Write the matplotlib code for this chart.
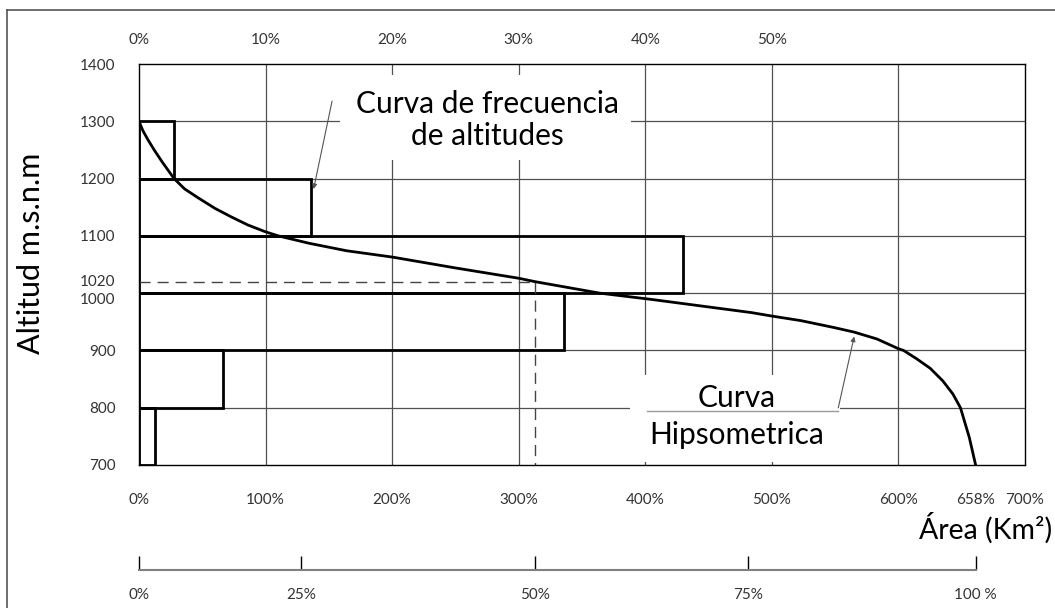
import matplotlib
matplotlib.use('Agg')
import matplotlib.pyplot as plt
import matplotlib.transforms as mtransforms
from matplotlib.patches import Rectangle
from matplotlib.lines import Line2D

plt.rcParams['font.family'] = ['Lato', 'DejaVu Sans']

# frequency of altitudes (bars), % of area per 100 m band
alt_low = [700, 800, 900, 1000, 1100, 1200]
freq_pct = [1.3, 6.6, 33.6, 43.0, 13.6, 2.8]

# hypsometric curve: accumulated area (bottom scale, %) vs altitude
hyp_area = [0, 3, 7, 12, 18, 27.7, 36, 47, 60, 73, 86, 100, 110, 134.5, 164,
            200, 250, 300, 313, 364, 405, 484, 500, 523, 549, 565, 583, 600,
            604, 614, 625, 635, 643, 649, 656, 661]
hyp_alt = [1300, 1284, 1268, 1250, 1230, 1200, 1182, 1166, 1148, 1133, 1119,
           1107, 1100, 1087, 1074, 1063, 1044, 1026, 1020, 1000, 989, 966,
           960, 952, 940, 932, 920, 903, 900, 886, 869, 847, 824, 800, 748, 700]

median_alt = 1020
median_area = 313

y_ticks = [700, 800, 900, 1000, 1020, 1100, 1200, 1300, 1400]
x_ticks = [0, 100, 200, 300, 400, 500, 600, 661, 700]
x_labels = ['0%', '100%', '200%', '300%', '400%', '500%', '600%', '658%', '700%']
top_ticks = [0, 10, 20, 30, 40, 50]
top_labels = ['0%', '10%', '20%', '30%', '40%', '50%']
rel_ticks = [0, 128, 313, 481, 661]
rel_labels = ['0%', '25%', '50%', '75%', '100 %']

W, H = 1055, 608
fig = plt.figure(figsize=(W / 100, H / 100), dpi=100)

L, R, T, B = 139, 1025, 64, 465
ax = fig.add_axes([L / W, 1 - B / H, (R - L) / W, (B - T) / H])
ax.set_xlim(0, 700)
ax.set_ylim(700, 1400)

tick_col = '#333333'
grid_col = '#505050'
lbl_size = 11

# grid
for x in range(100, 700, 100):
    ax.axvline(x, color=grid_col, lw=0.9, zorder=0.5)
for y in range(800, 1400, 100):
    ax.axhline(y, color=grid_col, lw=0.9, zorder=0.5)

# white boxes behind the annotations
ax.add_patch(Rectangle((159, 1232), 230, 149, fc='white', ec='none', zorder=1))
ax.add_patch(Rectangle((388, 705), 166, 152, fc='white', ec='none', zorder=1))

# frequency bars (top scale 10% = 100% bottom scale)
ax.barh(alt_low, [f * 10 for f in freq_pct], height=100, align='edge',
        fill=False, edgecolor='black', lw=2, zorder=2)

# hypsometric curve
ax.plot(hyp_area, hyp_alt, color='black', lw=2, zorder=3)

# median altitude
ax.plot([0, median_area], [median_alt, median_alt], color='#444444', lw=1,
        ls=(0, (8, 5)), zorder=2.5)
ax.plot([median_area, median_area], [median_alt, 700], color='#444444', lw=1,
        ls=(0, (8, 5)), zorder=2.5)

for s in ax.spines.values():
    s.set_color('black')
    s.set_linewidth(1)

ax.set_yticks(y_ticks)
ax.set_yticklabels([str(v) for v in y_ticks])
ax.set_xticks(x_ticks)
ax.set_xticklabels(x_labels)
ax.tick_params(axis='y', length=0, pad=17, labelsize=lbl_size, labelcolor=tick_col)
ax.tick_params(axis='x', length=0, pad=20, labelsize=lbl_size, labelcolor=tick_col)

# pull the 1000 / 1020 labels apart a little, as in the drawing
for lab in ax.get_yticklabels():
    if lab.get_text() == '1000':
        lab.set_transform(lab.get_transform() + mtransforms.ScaledTranslation(0, -4 / 72, fig.dpi_scale_trans))
    elif lab.get_text() == '1020':
        lab.set_transform(lab.get_transform() + mtransforms.ScaledTranslation(0, 1 / 72, fig.dpi_scale_trans))

top = ax.secondary_xaxis('top', functions=(lambda v: v / 10, lambda v: v * 10))
top.set_xticks(top_ticks)
top.set_xticklabels(top_labels)
top.tick_params(length=0, pad=12, labelsize=lbl_size, labelcolor=tick_col)
top.spines['top'].set_visible(False)

# annotations
ax.text(275, 1302, 'Curva de frecuencia\nde altitudes', ha='center', va='center',
        fontsize=21.5, linespacing=1.2, zorder=4)
ax.annotate('', xy=(137.5, 1177), xytext=(153, 1340),
            arrowprops=dict(arrowstyle='-|>', color='#555555', lw=0.8,
                            mutation_scale=7), zorder=4)

ax.text(472, 817, 'Curva', ha='center', va='center', fontsize=21.5, zorder=4)
ax.text(472, 752, 'Hipsometrica', ha='center', va='center', fontsize=21.5, zorder=4)
ax.plot([401, 552], [795, 795], color='#999999', lw=1, zorder=4)
ax.annotate('', xy=(565.5, 929), xytext=(552, 795),
            arrowprops=dict(arrowstyle='-|>', color='#555555', lw=0.8,
                            mutation_scale=7), zorder=4)

fig.text(1052 / W, 1 - 528 / H, 'Área (Km²)', ha='right', va='center',
         fontsize=20.5)
fig.text(31 / W, 1 - 253 / H, 'Altitud m.s.n.m', rotation=90, ha='center',
         va='center', fontsize=22)

# relative area axis
ax2 = fig.add_axes([L / W, 1 - 570 / H, (R - L) / W, 0.02])
ax2.set_xlim(0, 700)
ax2.patch.set_visible(False)
for k in ['top', 'left', 'right']:
    ax2.spines[k].set_visible(False)
ax2.spines['bottom'].set_bounds(0, rel_ticks[-1])
ax2.spines['bottom'].set_color('#808080')
ax2.spines['bottom'].set_linewidth(1.5)
ax2.set_yticks([])
ax2.set_xticks(rel_ticks)
ax2.set_xticklabels(rel_labels)
ax2.tick_params(axis='x', direction='in', length=10, width=1, color='black',
                pad=13, labelsize=lbl_size, labelcolor=tick_col)

# outer frame
fig.add_artist(Line2D([7 / W, 7 / W], [0, 1 - 10 / H], color='#555555', lw=1.2))
fig.add_artist(Line2D([7 / W, 1], [1 - 10 / H, 1 - 10 / H], color='#555555', lw=1.2))

fig.savefig('out.png', dpi=100)
